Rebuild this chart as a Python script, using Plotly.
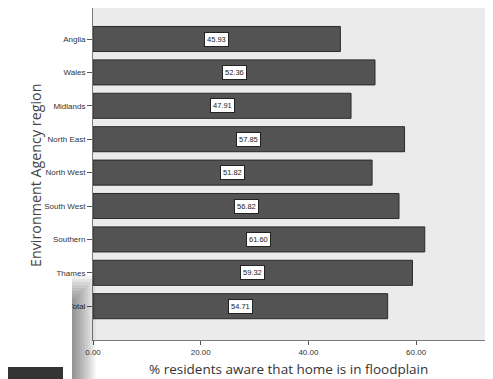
import plotly.graph_objects as go

regions = ['Anglia', 'Wales', 'Midlands', 'North East', 'North West',
           'South West', 'Southern', 'Thames', 'Total']
aware_pct = [45.93, 52.36, 47.91, 57.85, 51.82, 56.82, 61.60, 59.32, 54.71]
x_ticks = [0, 20, 40, 60]

# page body has an 8px margin, so lay out in page pixels minus that offset
OFF = 8
W, H = 493 - OFF, 379 - OFF
PL, PR, PT, PB = 93, 491, 8, 340   # plot area in page pixels
L, T = PL - OFF, PT - OFF
R, B = W - (PR - OFF), H - (PB - OFF)


def px_x(p):
    return (p - PL) / (PR - PL)


def px_y(p):
    return 1 - (p - PT) / (PB - PT)


fig = go.Figure()
fig.add_trace(go.Bar(
    x=aware_pct, y=regions, orientation='h',
    marker=dict(color='#535353', line=dict(color='#2a2a2a', width=1)),
    width=0.75, hoverinfo='x+y'
))

# value labels in white boxes at bar middle
for reg, v in zip(regions, aware_pct):
    fig.add_annotation(
        x=v / 2, y=reg, text=f'{v:.2f}', showarrow=False,
        xanchor='center', yanchor='middle',
        font=dict(family='Arial', size=7.5, color='#222222'),
        bgcolor='white', bordercolor='#222222', borderwidth=1, borderpad=2
    )

# axis titles
fig.add_annotation(
    x=px_x(35), y=px_y(176), xref='paper', yref='paper', textangle=-90,
    xanchor='center', yanchor='middle',
    text='Environment Agency region', showarrow=False,
    font=dict(family='Open Sans', size=14.3, color='#444444')
)
fig.add_annotation(
    x=px_x(288), y=px_y(369), xref='paper', yref='paper',
    xanchor='center', yanchor='middle',
    text='% residents aware that home is in floodplain', showarrow=False,
    font=dict(family='Open Sans', size=13.5, color='#333333')
)

# overlapping screenshot piece in the lower-left corner (soft shadow on its right)
shapes = []
for i in range(9):
    shapes.append(dict(
        type='rect', xref='paper', yref='paper', layer='above',
        x0=px_x(72), x1=px_x(72 + 2.6 * (i + 1)),
        y0=px_y(379), y1=px_y(300 - 3 * i),
        fillcolor='black', opacity=0.055, line=dict(width=0)
    ))
shapes.append(dict(
    type='rect', xref='paper', yref='paper', layer='above',
    x0=px_x(0), x1=px_x(72), y0=px_y(379), y1=px_y(296),
    fillcolor='white', line=dict(width=0)
))
shapes.append(dict(
    type='rect', xref='paper', yref='paper', layer='above',
    x0=px_x(0), x1=px_x(63), y0=px_y(379), y1=px_y(367),
    fillcolor='#333333', line=dict(width=0)
))

# category spacing ~33.4px; first bar centre at y=39 in the page
unit = 33.4
y_top = -(39 - PT) / unit
y_bot = y_top + (PB - PT) / unit

fig.update_layout(
    width=W, height=H,
    margin=dict(l=L, r=R, t=T, b=B, pad=0),
    paper_bgcolor='white', plot_bgcolor='#ebebeb',
    showlegend=False, shapes=shapes,
    bargap=0.25,
)
fig.update_xaxes(
    range=[0, 73.9], tickvals=x_ticks,
    ticktext=[f'{t:.2f}' for t in x_ticks],
    ticks='outside', ticklen=4, tickcolor='#555555',
    tickfont=dict(family='Arial', size=8, color='#333333'),
    showgrid=False, zeroline=False, automargin=False,
    showline=True, linecolor='#7a7a7a', linewidth=1, mirror=True
)
fig.update_yaxes(
    range=[y_bot, y_top], categoryorder='array', categoryarray=regions,
    ticks='outside', ticklen=5, tickcolor='#555555',
    tickfont=dict(family='Arial', size=8, color='#333333'),
    showgrid=False, zeroline=False, automargin=False,
    showline=True, linecolor='#7a7a7a', linewidth=1, mirror=True
)

fig.write_html("out.html")
